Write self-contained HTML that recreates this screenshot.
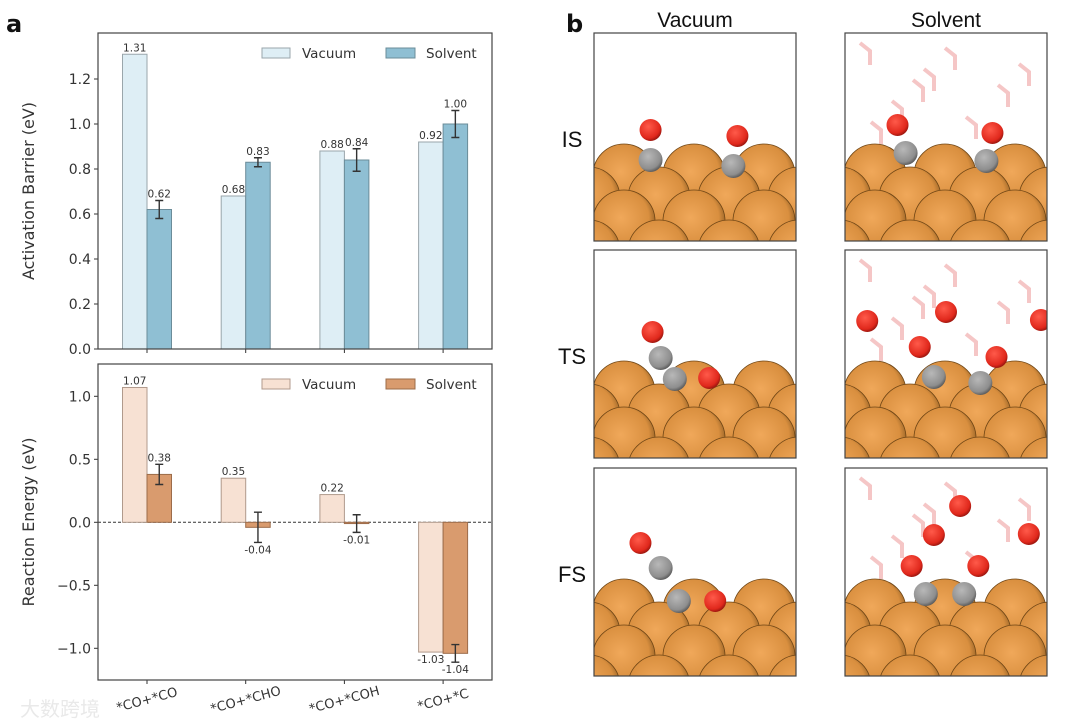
<!DOCTYPE html>
<html><head><meta charset="utf-8">
<style>
html,body{margin:0;padding:0;background:#fff;}
svg{display:block;font-family:"DejaVu Sans","Liberation Sans","Noto Sans CJK SC",sans-serif;}
</style></head>
<body>
<svg id="fig" width="1080" height="727" viewBox="0 0 1080 727">
<defs>
<radialGradient id="cu" cx="0.45" cy="0.45" r="0.6">
<stop offset="0" stop-color="#f0a85a"/><stop offset="0.75" stop-color="#d98f3f"/><stop offset="1" stop-color="#8a5a22"/>
</radialGradient>
<radialGradient id="ox" cx="0.4" cy="0.35" r="0.65">
<stop offset="0" stop-color="#ff5a4a"/><stop offset="0.8" stop-color="#e0281c"/><stop offset="1" stop-color="#a01810"/>
</radialGradient>
<radialGradient id="cb" cx="0.4" cy="0.35" r="0.65">
<stop offset="0" stop-color="#b8b8b8"/><stop offset="0.8" stop-color="#8e8e8e"/><stop offset="1" stop-color="#606060"/>
</radialGradient>
</defs>
<text x="6" y="32" font-size="24" font-weight="bold" fill="#111">a</text>
<text x="566" y="32" font-size="24" font-weight="bold" fill="#111">b</text>
<g id="top"></g>
<g id="bot"></g>
<g id="panelb"></g>
<text x="20" y="716" font-size="20" fill="#e4e4e4" opacity="0.8">大数跨境</text>
</svg>
<script>
const categories = ["*CO+*CO", "*CO+*CHO", "*CO+*COH", "*CO+*C"];
const barrierVacuum = [1.31, 0.68, 0.88, 0.92];
const barrierSolvent = [0.62, 0.83, 0.84, 1.00];
const barrierSolventErr = [0.04, 0.02, 0.05, 0.06];
const energyVacuum = [1.07, 0.35, 0.22, -1.03];
const energySolvent = [0.38, -0.04, -0.01, -1.04];
const energySolventErr = [0.08, 0.12, 0.07, 0.07];
const barrierTicks = [0.0, 0.2, 0.4, 0.6, 0.8, 1.0, 1.2];
const energyTicks = [-1.0, -0.5, 0.0, 0.5, 1.0];

const NS = "http://www.w3.org/2000/svg";
function mk(parent, tag, attrs, text) {
  const e = document.createElementNS(NS, tag);
  for (const k in attrs) e.setAttribute(k, attrs[k]);
  if (text !== undefined) e.textContent = text;
  parent.appendChild(e);
  return e;
}
const X0 = 98, X1 = 492;
const catX = i => 147 + i * 98.7;
const BW = 24.5;

function drawChart(g, opt) {
  const y = v => opt.zeroY - v * opt.scale;
  const yTop = opt.top, yBot = opt.bottom;
  opt.ticks.forEach(t => {
    const ty = y(t);
    const tk = mk(g, "line", {x1: X0 - 4, x2: X0, y1: ty, y2: ty, stroke: "#333", "stroke-width": 1});
    
    
    const lab = t < 0 ? "\u2212" + Math.abs(t).toFixed(1) : t.toFixed(1);
    const tl = mk(g, "text", {x: X0 - 7, y: ty + 5, "font-size": 14, "text-anchor": "end", fill: "#333"}, lab);
    
    
  });
  if (opt.zeroLine) {
    const zl = mk(g, "line", {x1: X0, x2: X1, y1: y(0), y2: y(0), stroke: "#333", "stroke-width": 1, "stroke-dasharray": "3,2"});
    
    
  }
  categories.forEach((c, i) => {
    const cx = catX(i);
    const v1 = opt.vac[i], v2 = opt.sol[i], e = opt.err[i];
    const r1 = mk(g, "rect", {x: cx - BW, y: Math.min(y(0), y(v1)), width: BW, height: Math.abs(y(v1) - y(0)), fill: opt.c1, stroke: opt.s1, "stroke-width": 1});
    
    
    const r2 = mk(g, "rect", {x: cx, y: Math.min(y(0), y(v2)), width: BW, height: Math.abs(y(v2) - y(0)), fill: opt.c2, stroke: opt.s2, "stroke-width": 1});
    
    
    const ex = cx + BW / 2;
    const eb = mk(g, "path", {d: `M${ex},${y(v2 + e)}V${y(v2 - e)}M${ex - 4},${y(v2 + e)}h8M${ex - 4},${y(v2 - e)}h8`, stroke: "#333", "stroke-width": 1.4, fill: "none"});
    
    
    const l1y = v1 >= 0 ? y(v1) - 3 : y(v1) + 11;
    const t1 = mk(g, "text", {x: cx - BW / 2, y: l1y, "font-size": 10.5, "text-anchor": "middle", fill: "#333"}, v1.toFixed(2));
    
    
    const l2y = v2 >= 0 ? y(v2 + e) - 3 : y(v2 - e) + 11;
    const t2 = mk(g, "text", {x: ex, y: l2y, "font-size": 10.5, "text-anchor": "middle", fill: "#333"}, v2.toFixed(2));
    
    
    const xt = mk(g, "line", {x1: cx, x2: cx, y1: yBot, y2: yBot + 4, stroke: "#333"});
    
    
    if (opt.xlabels) {
      const xl = mk(g, "text", {x: cx, y: yBot + 24, "font-size": 13, "text-anchor": "middle", fill: "#333", transform: `rotate(-15 ${cx} ${yBot + 20})`}, c);
      
      
    }
  });
  const fr = mk(g, "rect", {x: X0, y: yTop, width: X1 - X0, height: yBot - yTop, fill: "none", stroke: "#444", "stroke-width": 1.2});
  
  
  const ly = (yTop + yBot) / 2;
  const yl = mk(g, "text", {x: 34, y: ly, "font-size": 16, "text-anchor": "middle", fill: "#333", transform: `rotate(-90 34 ${ly})`}, opt.ylabel);
  
  
  const lg = yTop + 15;
  const p1 = mk(g, "rect", {x: 262, y: lg, width: 28, height: 10, fill: opt.c1, stroke: opt.s1});
  
  
  const lt1 = mk(g, "text", {x: 302, y: lg + 10, "font-size": 13.5, fill: "#333"}, "Vacuum");
  
  
  const p2 = mk(g, "rect", {x: 386, y: lg, width: 29, height: 10, fill: opt.c2, stroke: opt.s2});
  
  
  const lt2 = mk(g, "text", {x: 426, y: lg + 10, "font-size": 13.5, fill: "#333"}, "Solvent");
  
  
}

drawChart(document.getElementById("top"), {
  top: 33, bottom: 349, zeroY: 349, scale: 225, ticks: barrierTicks,
  vac: barrierVacuum, sol: barrierSolvent, err: barrierSolventErr,
  c1: "#deeef5", s1: "#9aa6ab", c2: "#8fbfd3", s2: "#6b8c99",
  ylabel: "Activation Barrier (eV)", zeroLine: false, xlabels: false
});
drawChart(document.getElementById("bot"), {
  top: 364, bottom: 680, zeroY: 522.3, scale: 126, ticks: energyTicks,
  vac: energyVacuum, sol: energySolvent, err: energySolventErr,
  c1: "#f7e1d3", s1: "#b09a8c", c2: "#d99b6e", s2: "#9c6c4a",
  ylabel: "Reaction Energy (eV)", zeroLine: true, xlabels: true
});

const pb = document.getElementById("panelb");
const cols = [594, 845], rows = [33, 250, 468], BWd = 202, BH = 208;
const LS = '"Liberation Sans", Arial, sans-serif';
const colT = mk(pb, "text", {x: 695, y: 27, "font-size": 21, "text-anchor": "middle", fill: "#111", "font-family": LS}, "Vacuum");


const colT2 = mk(pb, "text", {x: 946, y: 27, "font-size": 21, "text-anchor": "middle", fill: "#111", "font-family": LS}, "Solvent");


["IS", "TS", "FS"].forEach((s, r) => {
  const t = mk(pb, "text", {x: 572, y: rows[r] + 114, "font-size": 22, "text-anchor": "middle", fill: "#111", "font-family": LS}, s);
  
  
});
const mols = [
  [[28,97,"ox"],[28,127,"cb"],[71,103,"ox"],[69,133,"cb"]],
  [[26,92,"ox"],[30,120,"cb"],[73,100,"ox"],[70,128,"cb"]],
  [[29,82,"ox"],[33,108,"cb"],[40,129,"cb"],[57,128,"ox"]],
  [[37,97,"ox"],[44,127,"cb"],[75,107,"ox"],[67,133,"cb"],[11,71,"ox"],[50,62,"ox"],[97,70,"ox"]],
  [[23,75,"ox"],[33,100,"cb"],[42,133,"cb"],[60,133,"ox"]],
  [[33,98,"ox"],[40,126,"cb"],[59,126,"cb"],[66,98,"ox"],[57,38,"ox"],[44,67,"ox"],[91,66,"ox"]]
];
rows.forEach((ry, r) => {
  cols.forEach((cx, c) => {
    const id = "clip" + r + c;
    const cp = mk(pb, "clipPath", {id: id});
    mk(cp, "rect", {x: cx, y: ry, width: BWd, height: BH});
    const g = mk(pb, "g", {"clip-path": `url(#${id})`});
    
    
    mk(g, "rect", {x: cx, y: ry, width: BWd, height: BH, fill: "#fff"});
    if (c === 1) {
      for (let w = 0; w < 9; w++) {
        const wx = cx + 15 + (w * 53) % 180, wy = ry + 10 + (w * 37) % 90;
        mk(g, "path", {d: `M${wx},${wy}l10,8l0,14`, stroke: "#f2b8b8", "stroke-width": 4, fill: "none", opacity: 0.8});
      }
    }
    const lay = [[112, 0], [135, 35], [158, 0], [188, 35]];
    lay.forEach(([dy, off]) => {
      for (let x = -40 + off; x < BWd + 40; x += 70) {
        mk(g, "circle", {cx: cx + x, cy: ry + dy + 30, r: 31, fill: "url(#cu)", stroke: "#6e4515", "stroke-width": 0.8});
      }
    });
    mols[r * 2 + c].forEach(([px, py, col]) => {
      mk(g, "circle", {cx: cx + px / 100 * BWd, cy: ry + py, r: col === "ox" ? 11 : 12, fill: `url(#${col})`});
    });
    const fr = mk(pb, "rect", {x: cx, y: ry, width: BWd, height: BH, fill: "none", stroke: "#444", "stroke-width": 1.2});
    
    
  });
});
</script>
</body></html>
